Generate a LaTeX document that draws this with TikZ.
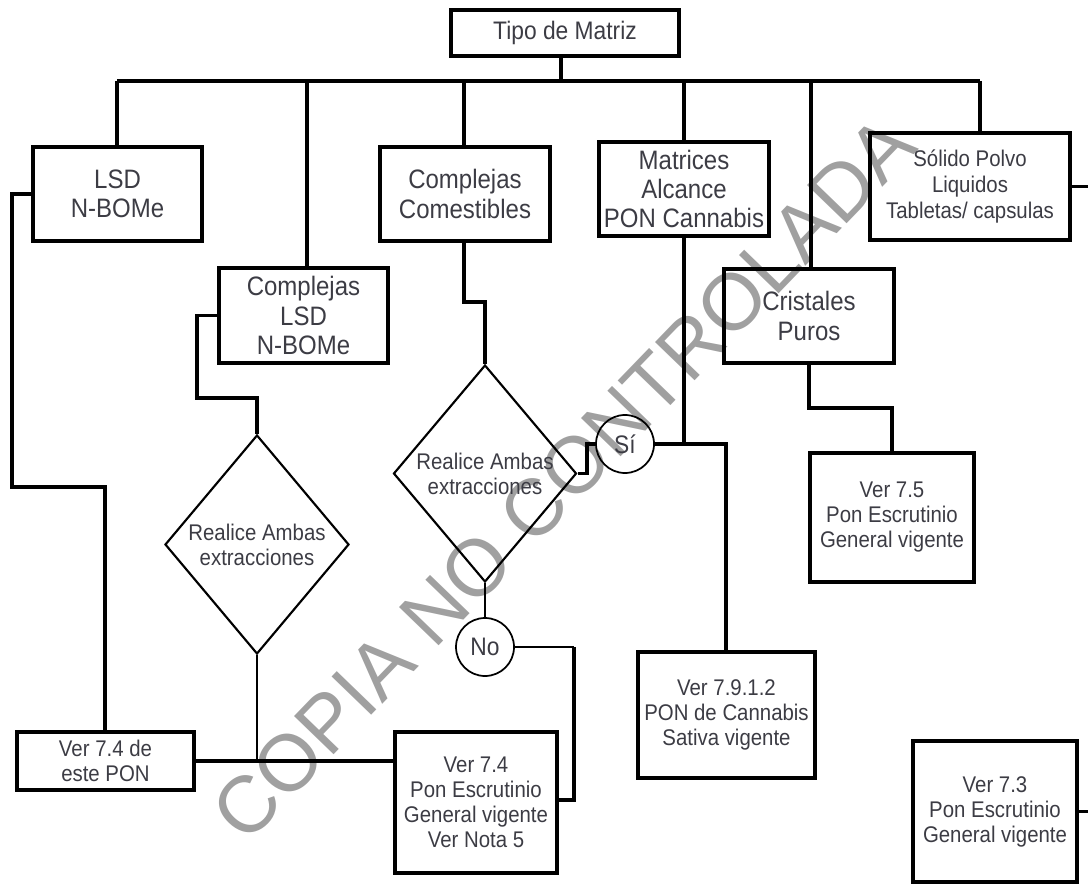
\documentclass[tikz,border=0pt]{standalone}
\usepackage{fontspec}
\setmainfont{Liberation Sans}[FakeStretch=0.9]
\newfontfamily\wmfont{Liberation Sans}
\usetikzlibrary{shapes.geometric}
\definecolor{txt}{HTML}{3C3C44}
\definecolor{wm}{HTML}{A0A0A0}
\begin{document}
\begin{tikzpicture}[x=0.75pt,y=-0.75pt,
  every node/.style={font=\fontsize{17}{18.75}\selectfont, text=txt, align=center, inner sep=0pt},
  bigtxt/.style={font=\fontsize{20}{21.8}\selectfont},
  bx/.style 2 args={draw, line width=2.9pt, minimum width=#1*0.75pt, minimum height=#2*0.75pt},
  dm/.style 2 args={draw, shape=diamond, line width=1.6pt, minimum width=#1*0.75pt, minimum height=#2*0.75pt},
  yn/.style={draw, circle, line width=1.3pt, minimum size=58*0.75pt, font=\fontsize{19}{20}\selectfont},
  ln/.style={line width=2.5pt},
  lt/.style={line width=1.7pt},
  wmark/.style={font=\wmfont\fontsize{60}{62}\selectfont, text=wm, rotate=46}
]
\useasboundingbox (0,0) rectangle (1088,884);

% watermark
\node[wmark] (wm) at (563,478) {COPIA NO CONTROLADA};

% boxes
\node[bx={228}{46}, font=\fontsize{19}{20}\selectfont] (tipo) at (565,33) {Tipo de Matriz};
\node[bx={169}{94}, bigtxt] (lsd) at (117.5,194) {LSD\\N-BOMe};
\node[bx={169}{95}, bigtxt] (clsd) at (303.5,315.5) {Complejas\\LSD\\N-BOMe};
\node[bx={170}{94}, bigtxt] (cc) at (465,194) {Complejas\\Comestibles};
\node[bx={170}{94}, bigtxt] (mat) at (684,189) {Matrices\\Alcance\\PON Cannabis};
\node[bx={170}{94}, bigtxt] (cri) at (809,316) {Cristales\\Puros};
\node[bx={200}{107}, font=\fontsize{17}{19.8}\selectfont] (sol) at (970,186.5) {Sólido Polvo\\Liquidos\\Tabletas/ capsulas};
\node[bx={164}{129}] (v75) at (892,517.5) {Ver 7.5\\Pon Escrutinio\\General vigente};
\node[bx={177}{126}] (v7912) at (726.5,715) {Ver 7.9.1.2\\PON de Cannabis\\Sativa vigente};
\node[bx={164}{141}] (v73) at (995,811.5) {Ver 7.3\\Pon Escrutinio\\General vigente};
\node[bx={177}{58}] (v74a) at (105.5,761) {Ver 7.4 de\\este PON};
\node[bx={162}{141}] (v74b) at (476,802.5) {Ver 7.4\\Pon Escrutinio\\General vigente\\Ver Nota 5};
\node[dm={184}{219}] (d1) at (257,544.5) {Realice Ambas\\extracciones};
\node[dm={183}{217}] (d2) at (485,473.5) {Realice Ambas\\extracciones};
\node[yn] (si) at (625,444) {Sí};
\node[yn] (no) at (485,647) {No};

% bus
\coordinate (b0) at (561,81);
\coordinate (bl) at (117,81);
\coordinate (br) at (980,81);
\coordinate (b2) at (307,81);
\coordinate (b3) at (464,81);
\coordinate (b4) at (684,81);
\coordinate (b5) at (811,81);
\draw[ln] (tipo.south -| b0) -- (b0);
\draw[ln] (bl) -- (br);
\draw[ln] (bl) -- (bl |- lsd.north);
\draw[ln] (b2) -- (b2 |- clsd.north);
\draw[ln] (b3) -- (b3 |- cc.north);
\draw[ln] (b4) -- (b4 |- mat.north);
\draw[ln] (b5) -- (b5 |- cri.north);
\draw[ln] (br) -- (br |- sol.north);

% LSD branch
\coordinate (k1) at (12,487);
\coordinate (k2) at (105,487);
\draw[ln] (lsd.west) -- (lsd.west -| k1) -- (k1) -- (k2) -- (k2 |- v74a.north);

% Complejas LSD branch
\coordinate (k3) at (197,398);
\coordinate (k4) at (257,398);
\draw[ln] (clsd.west) -- (clsd.west -| k3) -- (k3) -- (k4) -- (d1.north);
\draw[lt] (d1.south) -- (d1.south |- v74a.east);
\draw[ln] (v74a.east) -- (v74a.east -| v74b.west);

% Comestibles branch
\coordinate (k5) at (464,302);
\coordinate (k6) at (485,302);
\draw[ln] (cc.south -| k5) -- (k5) -- (k6) -- (d2.north);
\coordinate (k7) at (587,476);
\draw[ln] (d2.east) -- (d2.east -| k7) -- (k7 |- si.west) -- (si.west);
\draw[lt] (d2.south) -- (no.north);
\coordinate (k9) at (574,647);
\coordinate (k10) at (574,800);
\draw[lt] (no.east) -- (k9);
\draw[ln] (k9) -- (k10) -- (k10 -| v74b.east);

% Matrices branch
\coordinate (j) at (684,444);
\coordinate (k8) at (726,444);
\draw[ln] (mat.south) -- (j);
\draw[ln] (si.east) -- (j) -- (k8) -- (k8 |- v7912.north);

% Cristales branch
\coordinate (k11) at (809,408);
\coordinate (k12) at (892,408);
\draw[ln] (cri.south) -- (k11) -- (k12) -- (v75.north);

% right edge stubs
\coordinate (e1) at (1088,187);
\coordinate (e2) at (1088,812);
\draw[ln] (sol.east) -- (sol.east -| e1);
\draw[ln] (v73.east) -- (v73.east -| e2);
\end{tikzpicture}
\end{document}
